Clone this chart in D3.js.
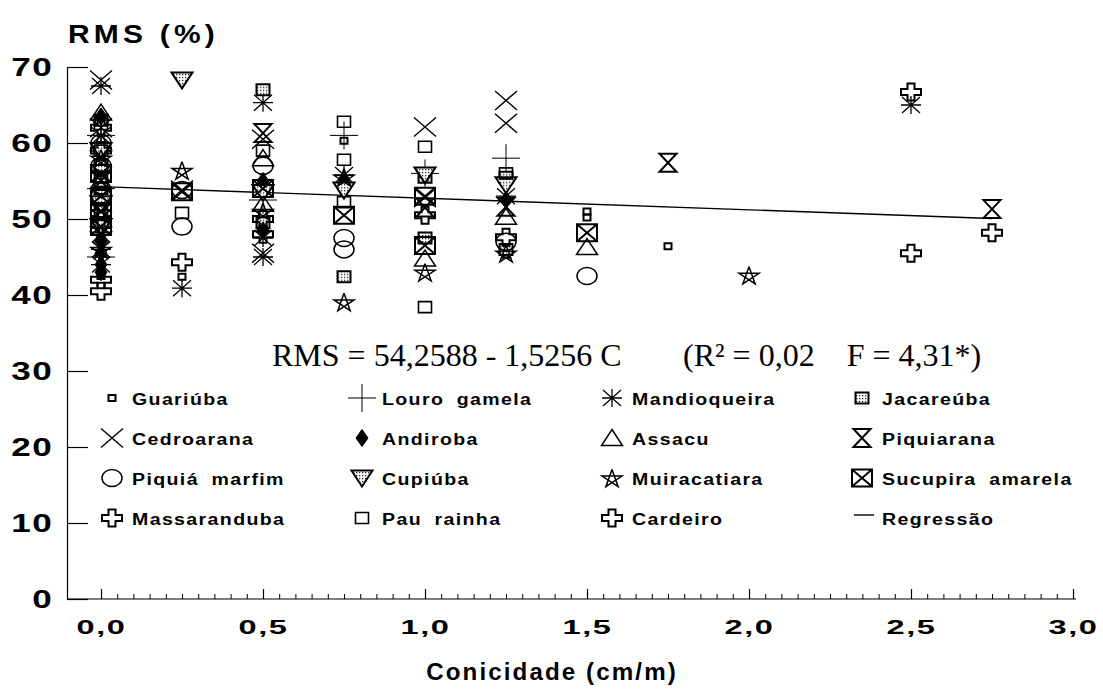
<!DOCTYPE html>
<html><head><meta charset="utf-8">
<script src="https://cdn.jsdelivr.net/npm/d3@7"></script>
<style>body{margin:0;background:#fff}svg{display:block}</style>
</head><body><svg id="c" width="1103" height="692"></svg>
<script>
// ---------- DATA ----------
const species = ["Guariúba","Louro gamela","Mandioqueira","Jacareúba",
  "Cedroarana","Andiroba","Assacu","Piquiarana",
  "Piquiá marfim","Cupiúba","Muiracatiara","Sucupira amarela",
  "Massaranduba","Pau rainha","Cardeiro"];
const guariuba = [[0,56],[0,50.5],[0,42.5],[0.25,42.4],[0.75,60.3],[1.25,45.3],[1.5,51.0],[1.5,50.2],[1.75,46.4]];
const louroGamela = [[0,61],[0,54],[0,45],[0.5,52.5],[0.75,61.0],[1,56],[1.25,58]];
const mandioqueira = [[0,67.5],[0,61],[0,56],[0,48],[0,46],[0,44],[0.25,40.9],[0.5,65.3],[0.5,47.5],[0.5,45],[0.75,55.8],[1.25,53],[2.5,65]];
const jacareuba = [[0,63],[0,57],[0,54],[0.5,67],[0.5,49.5],[0.75,42.4],[1,55.5],[1,47.5],[1.25,55.5],[1.25,46]];
const cedroarana = [[0,68.3],[0,62],[0,58],[0,52],[0.25,53.8],[0.5,60.5],[0.5,45.5],[1,62.1],[1,52.8],[1.25,65.6],[1.25,62.6]];
const andiroba = [[0,63.5],[0,47],[0,45.5],[0,44],[0,43],[0.5,55],[0.5,48.5],[0.75,55.2],[1.25,52.5]];
const assacu = [[0,64],[0,60],[0,55],[0,50],[0.5,58],[0.5,52],[1,44.8],[1.25,50.3],[1.5,46.3]];
const piquiarana = [[0,55],[0,50],[0.5,61.3],[1,51.5],[1.25,51.6],[1.75,57.4],[2.75,51.3]];
const piquiaMarfim = [[0,60],[0,57],[0,53],[0.25,53.8],[0.25,49],[0.5,57],[0.75,47.5],[0.75,46],[1.25,47],[1.5,42.5]];
const cupiuba = [[0,59],[0,52],[0,49],[0.25,68.3],[0.5,53.5],[0.75,53.8],[1,55.8],[1.25,54.5]];
const muiracatiara = [[0,58],[0,48],[0,46],[0.25,56.4],[0.5,51],[0.75,55.5],[0.75,39.1],[1,43],[1.25,45.5],[2,42.6]];
const sucupiraAmarela = [[0,56],[0,53],[0,51],[0,49],[0.25,53.6],[0.5,54],[0.75,50.5],[1,53],[1,46.5],[1.5,48.2]];
const massaranduba = [[0,40.5],[0,50],[0,59],[0.25,44.3],[0.5,50],[1,50.5],[1.25,47.6],[2.5,45.5],[2.75,48.2]];
const pauRainha = [[0,62.5],[0,59],[0,55],[0,51],[0.25,50.8],[0.5,59],[0.75,62.8],[0.75,57.8],[0.75,52.2],[1,59.5],[1,38.4],[1.25,56]];
const cardeiro = [[0,42],[0,62],[0.5,48],[2.5,66.7]];
const seriesValues = [guariuba,louroGamela,mandioqueira,jacareuba,cedroarana,andiroba,assacu,piquiarana,
  piquiaMarfim,cupiuba,muiracatiara,sucupiraAmarela,massaranduba,pauRainha,cardeiro];
const regIntercept = 54.2588, regSlope = -1.5256, regXRange = [0, 2.75];
const xTicks = [0,0.5,1,1.5,2,2.5,3];
const yTicks = [0,10,20,30,40,50,60,70];
const legendRegLabel = "Regressão";
const eqLeft = "RMS = 54,2588 - 1,5256 C";
const eqRight = "(R² = 0,02    F = 4,31*)";

// ---------- STYLE ----------
const symbols = ["smallsq","plus","aster","patsq","x","diamond","tri","hour","circle","invtri","star","boxx","cross","sq","cross"];
const svg = d3.select("#c");
const defs = svg.append("defs");
const pat = defs.append("pattern").attr("id","dots").attr("width",3).attr("height",3).attr("patternUnits","userSpaceOnUse");
pat.append("rect").attr("width",3).attr("height",3).attr("fill","#fff");
pat.append("rect").attr("width",1.3).attr("height",1.3).attr("fill","#222");

const x = d3.scaleLinear().domain([0,3]).range([101,1073]);
const y = d3.scaleLinear().domain([0,70]).range([599,67]);
const FONT = "'Liberation Sans', Arial, sans-serif";

function starPath(){
  const pts = d3.range(5).map(k=>{const a=(-90+k*72)*Math.PI/180;return [10.5*Math.cos(a),9.5*Math.sin(a)+1];});
  const o=[0,2,4,1,3,0];
  return "M"+o.map(i=>pts[i].join(",")).join("L");
}
const paths = {
  smallsq:"M-3.5,-3h7v6h-7Z",
  plus:"M-14,0H14M0,-14V14",
  aster:"M-10,0H10M-9,-8L9,8M-9,8L9,-8M0,-9V9",
  patsq:"M-6.5,-5.5h13v11h-13Z",
  x:"M-11,-9.5L11,9.5M-11,9.5L11,-9.5",
  diamond:"M0,-8.5L6,0L0,8.5L-6,0Z",
  tri:"M0,-8.5L10.5,7.5L-10.5,7.5Z",
  hour:"M-8.5,-9H8.5L-8.5,9H8.5Z",
  circle:"M-10,0A10,8.5 0 1,0 10,0A10,8.5 0 1,0 -10,0Z",
  invtri:"M-10.5,-7.5H10.5L0,8.5Z",
  star:starPath(),
  boxx:"M-10,-8.5h20v17h-20ZM-10,-8.5L10,8.5M-10,8.5L10,-8.5",
  cross:"M-3.5,-8.5H3.5V-3H10V3H3.5V8.5H-3.5V3H-10V-3H-3.5Z",
  sq:"M-6.5,-5.5h13v11h-13Z"
};
const fills = {patsq:"url(#dots)",invtri:"url(#dots)",diamond:"#000"};
const widths = {plus:1,aster:1.3,x:1.4,smallsq:2,patsq:2,hour:2,boxx:2,cross:2,sq:1.6,circle:1.5,tri:1.5,invtri:2,star:1.5,diamond:1};
function sym(g,type){
  return g.append("path").attr("d",paths[type])
    .attr("fill",fills[type]||"none").attr("stroke","#000")
    .attr("stroke-width",widths[type]).attr("stroke-linejoin","miter");
}

// ---------- AXES ----------
const fmt = d=>d3.format(".1f")(d).replace(".",",");
const yAxis = svg.append("g").attr("transform",`translate(67,0)`)
  .call(d3.axisLeft(y).tickValues(yTicks).tickSize(-21).tickSizeOuter(0).tickPadding(14));
yAxis.select(".domain").attr("stroke","#000").attr("stroke-width",1.2);
yAxis.selectAll(".tick line").attr("stroke","#000").attr("stroke-width",1.2);
yAxis.selectAll("text").attr("font-family",FONT).attr("font-weight","bold").attr("font-size",26)
  .attr("fill","#000").attr("transform","scale(1.35,1)").attr("x",-14/1.35).attr("letter-spacing",1);

const xMinor = d3.range(0,3.001,0.05);
const xMinAxis = svg.append("g").attr("transform",`translate(0,599)`)
  .call(d3.axisBottom(x).tickValues(xMinor).tickSize(-5).tickSizeOuter(0).tickFormat(""));
xMinAxis.select(".domain").remove();
xMinAxis.selectAll(".tick line").attr("stroke","#000").attr("stroke-width",1);
const xAxis = svg.append("g").attr("transform",`translate(0,599)`)
  .call(d3.axisBottom(x).tickValues(xTicks).tickSize(-10).tickSizeOuter(0).tickPadding(20).tickFormat(fmt));
xAxis.select(".domain").attr("d","M67,0H1076").attr("stroke","#000").attr("stroke-width",1.2);
xAxis.selectAll(".tick line").attr("stroke","#000").attr("stroke-width",1.2);
xAxis.selectAll("text").attr("font-family",FONT).attr("font-weight","bold").attr("font-size",21)
  .attr("fill","#000").attr("transform","scale(1.55,1)").attr("letter-spacing",1);

// titles
function wideText(px,py,str,size,sx,ls,anchor,ws){
  svg.append("g").attr("transform",`translate(${px},${py}) scale(${sx},1)`)
    .append("text").attr("font-family",FONT).attr("font-weight","bold").attr("font-size",size)
    .attr("letter-spacing",ls).attr("word-spacing",ws||0).attr("text-anchor",anchor||"start").attr("fill","#000").text(str);
}
wideText(68,43,"RMS (%)",25,1.2,3.5);
wideText(552,680,"Conicidade (cm/m)",23,1.05,2,"middle");

// regression
const regPts = regXRange.map(v=>[v, regIntercept + regSlope*v]);
svg.append("path").attr("d",d3.line().x(d=>x(d[0])).y(d=>y(d[1]))(regPts))
  .attr("stroke","#000").attr("stroke-width",1.4).attr("fill","none");

// points
seriesValues.forEach((arr,i)=>{
  arr.forEach(p=>{
    const g = svg.append("g").attr("transform",`translate(${x(p[0])},${y(p[1])})`);
    sym(g,symbols[i]);
  });
});

// equation
const SERIF = "'Liberation Serif','Times New Roman',serif";
svg.append("text").attr("x",272).attr("y",366).attr("font-family",SERIF)
  .attr("font-size",32).attr("fill","#000").text(eqLeft);
svg.append("text").attr("x",683).attr("y",366).attr("font-family",SERIF)
  .attr("font-size",32).attr("fill","#000").style("white-space","pre").text(eqRight);

// legend
const legCols = [112,362,612,862], legRows = [398,438,478,518];
const legItems = species.map((s,i)=>({label:s,type:symbols[i]})).concat([{label:legendRegLabel,type:"reg"}]);
legItems.forEach((it,i)=>{
  const cx = legCols[i%4], cy = legRows[Math.floor(i/4)];
  const g = svg.append("g").attr("transform",`translate(${cx},${cy})`);
  if(it.type==="reg"){
    g.append("line").attr("x1",-8).attr("x2",12).attr("y1",-3).attr("y2",-3).attr("stroke","#000").attr("stroke-width",1.4);
  } else {
    sym(g,it.type);
  }
  wideText(cx+20,cy+7,it.label,17,1.15,1.2,"start",5);
});
</script></body></html>
